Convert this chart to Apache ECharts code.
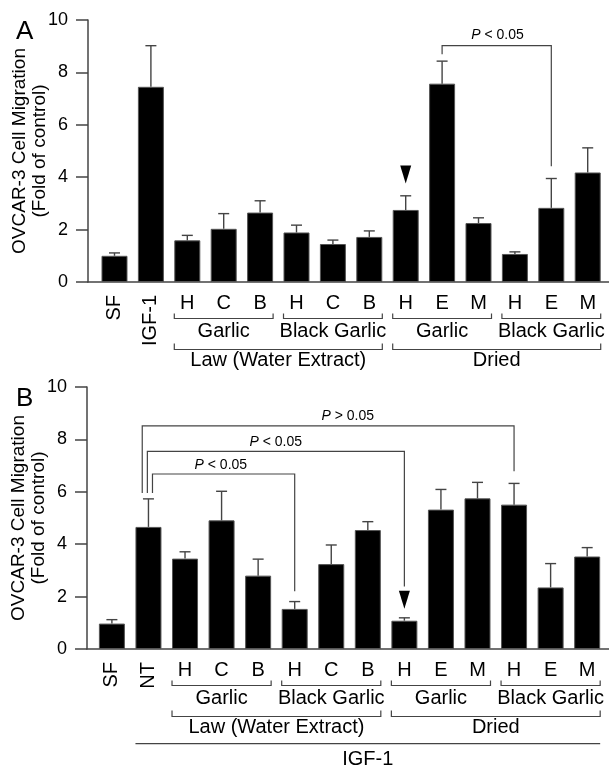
<!DOCTYPE html>
<html>
<head>
<meta charset="utf-8">
<script src="https://cdn.jsdelivr.net/npm/echarts@6.0.0/dist/echarts.min.js"></script>
<style>
  html, body { margin: 0; padding: 0; background: #fff; }
  #chart { width: 609px; height: 768px; }
</style>
</head>
<body>
<div id="chart"></div>
<script>
  const FONT = '"Liberation Sans", Arial, Helvetica, sans-serif';

  // x labels
  const labelsA = ['SF', 'IGF-1', 'H', 'C', 'B', 'H', 'C', 'B', 'H', 'E', 'M', 'H', 'E', 'M'];
  const labelsB = ['SF', 'NT', 'H', 'C', 'B', 'H', 'C', 'B', 'H', 'E', 'M', 'H', 'E', 'M'];
  const rotatedLabels = ['SF', 'IGF-1', 'NT'];

  // bar heights and upper error (SEM)
  const meanA = [1.0, 7.45, 1.59, 2.03, 2.65, 1.89, 1.45, 1.72, 2.75, 7.57, 2.25, 1.07, 2.83, 4.18];
  const errA = [0.11, 1.57, 0.19, 0.58, 0.45, 0.28, 0.15, 0.23, 0.54, 0.86, 0.2, 0.08, 1.12, 0.94];
  const meanB = [0.97, 4.66, 3.45, 4.91, 2.8, 1.53, 3.24, 4.54, 1.08, 5.32, 5.75, 5.51, 2.35, 3.53];
  const errB = [0.15, 1.07, 0.26, 1.11, 0.63, 0.28, 0.73, 0.32, 0.11, 0.77, 0.61, 0.81, 0.91, 0.34];

  // group brackets under the axis: [label, first index, last index, level]
  const groupsA = [
    ['Garlic', 2, 4, 1], ['Black Garlic', 5, 7, 1], ['Garlic', 8, 10, 1], ['Black Garlic', 11, 13, 1],
    ['Law (Water Extract)', 2, 7, 2], ['Dried', 8, 13, 2]
  ];
  const groupsB = groupsA.concat([['IGF-1', 1, 13, 3]]);

  // significance brackets: [x left, x right, left end, right end, top, text x, text y, sign]
  const sigA = [[9, 12, 8.69, 4.42, 9.02, 10.52, 9.43, '<']];
  const sigB = [
    [0.83, 11, 5.95, 6.78, 8.52, 6.45, 8.9, '>'],
    [0.97, 8, 5.95, 2.39, 7.54, 4.48, 7.88, '<'],
    [1.11, 5, 5.95, 2.2, 6.68, 2.98, 7.03, '<']
  ];

  // arrow heads
  const arrowA = [[8, 4.1]];
  const arrowB = [[8, 1.88]];

  const chart = echarts.init(document.getElementById('chart'));

  const axisColor = '#444';

  const makeYAxis = (gridIndex) => ({
    gridIndex,
    type: 'value',
    min: 0,
    max: 10,
    interval: 2,
    axisLine: { show: true, onZero: false, lineStyle: { color: axisColor, width: 1.5 } },
    axisTick: { show: true, length: 12, lineStyle: { color: axisColor, width: 1.5 } },
    axisLabel: { color: '#000', fontSize: 18, fontFamily: FONT, margin: 20 },
    splitLine: { show: false },
    name: 'OVCAR-3 Cell Migration\n(Fold of control)',
    nameLocation: 'middle',
    nameGap: 38,
    nameMoveOverlap: false,
    nameTextStyle: { color: '#000', fontSize: 19, lineHeight: 20, fontFamily: FONT }
  });

  const makeXAxis = (gridIndex, min, max) => ({
    gridIndex,
    type: 'value',
    min,
    max,
    axisLine: { onZero: false, lineStyle: { color: axisColor, width: 1.5 } },
    axisTick: { show: false },
    axisLabel: { show: false },
    splitLine: { show: false }
  });

  const barSeries = (idx, means) => ({
    type: 'bar',
    xAxisIndex: idx,
    yAxisIndex: idx,
    barWidth: 26,
    data: means.map((v, i) => [i, v]),
    itemStyle: { color: '#000', borderColor: '#555', borderWidth: 1 },
    z: 2
  });

  const errorSeries = (idx, means, errs) => ({
    type: 'custom',
    xAxisIndex: idx,
    yAxisIndex: idx,
    data: means.map((v, i) => [i, v, v + errs[i]]),
    z: 3,
    renderItem: (params, api) => {
      const lo = api.coord([api.value(0), api.value(1)]);
      const hi = api.coord([api.value(0), api.value(2)]);
      const style = { stroke: '#444', lineWidth: 1.4 };
      return {
        type: 'group',
        children: [
          { type: 'line', shape: { x1: lo[0], y1: lo[1], x2: hi[0], y2: hi[1] }, style },
          { type: 'line', shape: { x1: hi[0] - 5.5, y1: hi[1], x2: hi[0] + 5.5, y2: hi[1] }, style }
        ]
      };
    }
  });

  const labelSeries = (idx, labels) => ({
    type: 'custom',
    xAxisIndex: idx,
    yAxisIndex: idx,
    data: labels.map((l, i) => [i, 0]),
    silent: true,
    renderItem: (params, api) => {
      const p = api.coord([api.value(0), 0]);
      const text = labels[params.dataIndex];
      if (rotatedLabels.includes(text)) {
        return {
          type: 'text',
          x: p[0],
          y: p[1] + 13,
          rotation: Math.PI / 2,
          style: { text, align: 'right', verticalAlign: 'middle', fontSize: 20, fontFamily: FONT, fill: '#000' }
        };
      }
      return {
        type: 'text',
        x: p[0],
        y: p[1] + 21,
        style: { text, align: 'center', verticalAlign: 'middle', fontSize: 20, fontFamily: FONT, fill: '#000' }
      };
    }
  });

  // level offsets below baseline: [tick top, line, text]
  const levelOffsets = { 1: [31.5, 36.5, 49], 2: [61.5, 67.5, 78], 3: [0, 94.7, 110] };

  const groupSeries = (idx, groups) => ({
    type: 'custom',
    xAxisIndex: idx,
    yAxisIndex: idx,
    data: groups.map((g) => [g[1], g[2], g[3]]),
    silent: true,
    renderItem: (params, api) => {
      const g = groups[params.dataIndex];
      const a = api.coord([api.value(0), 0]);
      const b = api.coord([api.value(1), 0]);
      const level = api.value(2);
      const off = levelOffsets[level];
      const half = 13;
      const x1 = a[0] - half;
      const x2 = b[0] + half;
      const yl = a[1] + off[1];
      const style = { stroke: '#444', lineWidth: 1.2, fill: null };
      const children = [];
      if (level === 3) {
        children.push({ type: 'line', shape: { x1, y1: yl, x2, y2: yl }, style });
      } else {
        children.push({
          type: 'polyline',
          shape: { points: [[x1, a[1] + off[0]], [x1, yl], [x2, yl], [x2, a[1] + off[0]]] },
          style
        });
      }
      children.push({
        type: 'text',
        x: (x1 + x2) / 2,
        y: a[1] + off[2],
        style: { text: g[0], align: 'center', verticalAlign: 'middle', fontSize: 20, fontFamily: FONT, fill: '#000' }
      });
      return { type: 'group', children };
    }
  });

  const sigSeries = (idx, sigs) => ({
    type: 'custom',
    xAxisIndex: idx,
    yAxisIndex: idx,
    data: sigs.map((s) => s.slice(0, 7)),
    silent: true,
    z: 4,
    renderItem: (params, api) => {
      const s = sigs[params.dataIndex];
      const pl = api.coord([s[0], s[2]]);
      const pr = api.coord([s[1], s[3]]);
      const top = api.coord([s[0], s[4]])[1];
      const t = api.coord([s[5], s[6]]);
      return {
        type: 'group',
        children: [
          {
            type: 'polyline',
            shape: { points: [[pl[0], pl[1]], [pl[0], top], [pr[0], top], [pr[0], pr[1]]] },
            style: { stroke: '#444', lineWidth: 1.2, fill: null }
          },
          {
            type: 'text',
            x: t[0],
            y: t[1],
            style: {
              text: '{i|P} ' + s[7] + ' 0.05',
              align: 'center',
              verticalAlign: 'middle',
              fontSize: 14,
              fontFamily: FONT,
              fill: '#000',
              rich: { i: { fontStyle: 'italic', fontSize: 14, fontFamily: FONT } }
            }
          }
        ]
      };
    }
  });

  const arrowSeries = (idx, pts) => ({
    type: 'scatter',
    xAxisIndex: idx,
    yAxisIndex: idx,
    data: pts,
    symbol: 'triangle',
    symbolRotate: 180,
    symbolSize: [11, 18],
    itemStyle: { color: '#000', opacity: 1 },
    silent: true,
    z: 4
  });

  const option = {
    animation: false,
    backgroundColor: '#fff',
    title: [
      { text: 'A', left: 11, top: 14, textStyle: { fontSize: 26, fontWeight: 'normal', fontFamily: FONT, color: '#000' } },
      { text: 'B', left: 11, top: 381, textStyle: { fontSize: 26, fontWeight: 'normal', fontFamily: FONT, color: '#000' } }
    ],
    grid: [
      { left: 88, top: 20, width: 521, height: 262, outerBoundsMode: 'none' },
      { left: 87, top: 387, width: 522, height: 262, outerBoundsMode: 'none' }
    ],
    xAxis: [makeXAxis(0, -0.728, 13.585), makeXAxis(1, -0.681, 13.597)],
    yAxis: [makeYAxis(0), makeYAxis(1)],
    series: [
      barSeries(0, meanA),
      errorSeries(0, meanA, errA),
      labelSeries(0, labelsA),
      groupSeries(0, groupsA),
      sigSeries(0, sigA),
      arrowSeries(0, arrowA),
      barSeries(1, meanB),
      errorSeries(1, meanB, errB),
      labelSeries(1, labelsB),
      groupSeries(1, groupsB),
      sigSeries(1, sigB),
      arrowSeries(1, arrowB)
    ]
  };

  chart.setOption(option);
</script>
</body>
</html>
